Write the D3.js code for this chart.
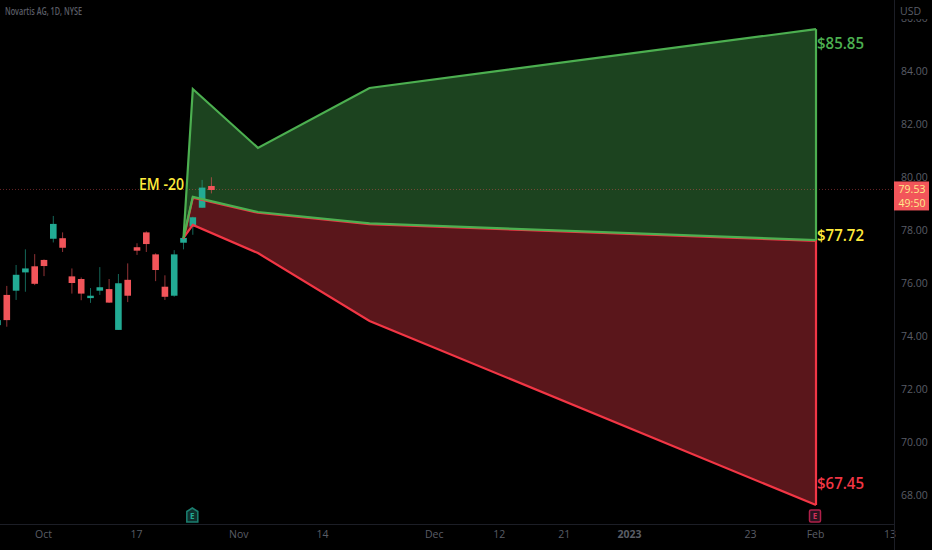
<!DOCTYPE html>
<html><head><meta charset="utf-8">
<script src="https://cdn.jsdelivr.net/npm/d3@7"></script>
<style>html,body{margin:0;padding:0;background:#000;overflow:hidden}svg{display:block}text{font-family:"Open Sans",sans-serif}</style>
</head><body><svg id="c" width="932" height="550"></svg>
<script>
const barIdx=[-5,-4,-3,-2,-1,0,1,2,3,4,5,6,7,8,9,10,11,12,13,14,15,16,17,18];
const open =[74.41,75.55,75.71,76.40,76.63,76.87,77.67,77.69,76.25,76.15,75.43,75.71,75.77,74.23,76.12,77.35,77.91,77.08,75.86,75.52,77.52,78.13,78.84,79.66];
const close=[74.60,74.60,76.31,76.55,75.97,76.64,78.23,77.33,76.00,75.60,75.52,75.84,75.26,75.99,75.52,77.22,77.47,76.49,75.48,77.08,77.70,78.48,79.60,79.51];
const high =[74.70,75.89,76.68,77.27,77.09,76.89,78.53,77.91,76.55,76.21,75.81,76.60,76.15,76.34,76.74,77.50,77.95,77.12,76.29,77.24,77.87,78.50,79.89,79.99];
const low  =[74.35,74.35,75.36,75.67,75.92,76.26,77.53,77.17,75.60,75.35,75.25,75.55,75.25,74.23,75.28,77.06,77.17,76.07,75.36,75.48,77.27,77.82,78.84,79.38];
const coneIdx=[15,16,23,35,83];
const coneUpper=[77.70,83.32,81.10,83.36,85.58];
const coneMid  =[77.70,79.25,78.68,78.25,77.62];
const coneLower=[77.70,78.19,77.13,74.57,67.62];
const priceTicks=[86,84,82,80,78,76,74,72,70,68];
const timeTickIdx=[0,10,21,30,42,49,56,63,76,83,91];
const timeTickLabels=["Oct","17","Nov","14","Dec","12","21","2023","23","Feb","13"];
const lastPrice=79.53, countdown="49:50";
const labels=[{t:"$85.85",v:85.06,c:"#4caf50"},{t:"$77.72",v:77.80,c:"#ffeb3b"},{t:"$67.45",v:68.45,c:"#f23645"}];

const svg=d3.select("#c");
const UP="#22ab94",DOWN="#f2555a",AXIS="#1c1e26",TXT="#5a5d66";
const x=d3.scaleLinear().domain([0,83]).range([44,816]);
const y=d3.scaleLinear().domain([84,68]).range([71,495]);
const plotR=894, plotB=524;

svg.append("rect").attr("width",932).attr("height",550).attr("fill","#000");

// cone fills
const pts=coneIdx.map((d,i)=>({i:d,u:coneUpper[i],m:coneMid[i],l:coneLower[i]}));
const areaU=d3.area().x(d=>x(d.i)).y0(d=>y(d.m)).y1(d=>y(d.u));
const areaL=d3.area().x(d=>x(d.i)).y0(d=>y(d.l)).y1(d=>y(d.m));
svg.append("path").attr("d",areaL(pts)).attr("fill","#5a161b");
svg.append("path").attr("d",areaU(pts)).attr("fill","#1c431f");

// last price line
svg.append("line").attr("x1",0).attr("x2",plotR).attr("y1",y(lastPrice)).attr("y2",y(lastPrice))
  .attr("stroke","#f2555a").attr("stroke-opacity",.42).attr("stroke-dasharray","1 2");

// candles
const candles=barIdx.map((d,i)=>({i:d,o:open[i],c:close[i],h:high[i],l:low[i]}));
const g=svg.append("g");
g.selectAll("line").data(candles).join("line")
  .attr("x1",d=>x(d.i)).attr("x2",d=>x(d.i)).attr("y1",d=>y(d.h)).attr("y2",d=>y(d.l))
  .attr("stroke",d=>d.c>=d.o?UP:DOWN).attr("stroke-opacity",.6);
g.selectAll("rect").data(candles).join("rect")
  .attr("x",d=>x(d.i)-3.3).attr("width",6.6)
  .attr("y",d=>y(Math.max(d.o,d.c))).attr("height",d=>Math.max(1,Math.abs(y(d.o)-y(d.c))))
  .attr("fill",d=>d.c>=d.o?UP:DOWN);

// cone outlines
const ln=k=>d3.line().x(d=>x(d.i)).y(d=>y(d[k]));
const last=pts[pts.length-1];
const SW=2.2;
svg.append("path").attr("d",ln("l")(pts)).attr("fill","none").attr("stroke","#f23645").attr("stroke-width",SW);
svg.append("line").attr("x1",x(83)).attr("x2",x(83)).attr("y1",y(last.l)).attr("y2",y(last.m)).attr("stroke","#f23645").attr("stroke-width",SW);
svg.append("path").attr("d",ln("m")(pts)).attr("fill","none").attr("stroke","#f23645").attr("stroke-width",SW).attr("transform","translate(0,0.8)");
svg.append("path").attr("d",ln("u")(pts)).attr("fill","none").attr("stroke","#4caf50").attr("stroke-width",SW);
svg.append("path").attr("d",ln("m")(pts)).attr("fill","none").attr("stroke","#4caf50").attr("stroke-width",SW);
svg.append("line").attr("x1",x(83)).attr("x2",x(83)).attr("y1",y(last.u)).attr("y2",y(last.m)).attr("stroke","#4caf50").attr("stroke-width",SW);

// annotation labels
const lab=svg.append("g").attr("font-weight",600).attr("font-size",17);
lab.selectAll("text").data(labels).join("text").attr("x",817).attr("y",d=>y(d.v)+6)
  .attr("fill",d=>d.c).attr("textLength",47).attr("lengthAdjust","spacingAndGlyphs").text(d=>d.t);
svg.append("text").attr("x",139).attr("y",190).attr("fill","#ffeb3b").attr("font-size",17).attr("font-weight",600)
  .attr("textLength",45).attr("lengthAdjust","spacingAndGlyphs").text("EM -20");

// axes
const ya=d3.axisRight(y).tickValues(priceTicks).tickSize(0).tickPadding(7).tickFormat(d3.format(".2f"));
const yg=svg.append("g").attr("transform",`translate(${plotR},0)`).call(ya);
yg.select(".domain").remove();
yg.selectAll("text").attr("fill",TXT).attr("font-size",10.5);
svg.append("rect").attr("x",plotR+1).attr("y",0).attr("width",40).attr("height",19).attr("fill","#000");
const xa=d3.axisBottom(x).tickValues(timeTickIdx).tickSize(0).tickPadding(7).tickFormat((d,i)=>timeTickLabels[i]);
const xg=svg.append("g").attr("transform",`translate(0,${plotB})`).call(xa);
xg.select(".domain").remove();
xg.selectAll("text").attr("fill",TXT).attr("font-size",10.5).attr("dx",-1);
xg.selectAll("text").filter((d,i)=>timeTickLabels[i]==="2023").attr("font-weight",700);
svg.append("line").attr("x1",0).attr("x2",plotR).attr("y1",plotB+.5).attr("y2",plotB+.5).attr("stroke",AXIS);
svg.append("line").attr("x1",plotR+.5).attr("x2",plotR+.5).attr("y1",0).attr("y2",550).attr("stroke",AXIS);

svg.append("text").attr("x",900).attr("y",15).attr("fill",TXT).attr("font-size",10.5).text("USD");
svg.append("text").attr("x",5).attr("y",15).attr("fill",TXT).attr("font-size",10).attr("font-weight",600).attr("textLength",77).attr("lengthAdjust","spacingAndGlyphs").text("Novartis AG, 1D, NYSE");

// last price tag
const ly=y(lastPrice);
svg.append("rect").attr("x",plotR).attr("y",ly-8).attr("width",35).attr("height",29).attr("fill","#f2555a");
svg.append("text").attr("x",plotR+18).attr("y",ly+4).attr("text-anchor","middle").attr("fill","#ffeb8a").attr("font-size",10.5).text(d3.format(".2f")(lastPrice));
svg.append("text").attr("x",plotR+18).attr("y",ly+18).attr("text-anchor","middle").attr("fill","#ffeb8a").attr("font-size",10.5).text(countdown);

// earnings markers
const em=svg.append("g");
const gx=x(16)-0.5;
em.append("path").attr("d",`M${gx-5.5},${511.5} L${gx},${508} L${gx+5.5},${511.5} V${522} H${gx-5.5} Z`).attr("fill","#0f2f2c").attr("stroke","#1b7f70").attr("stroke-width",1.5);
em.append("text").attr("x",gx).attr("y",519).attr("text-anchor","middle").attr("font-size",8).attr("font-weight",700).attr("fill","#22ab94").text("E");
const rx=x(83)-1;
em.append("rect").attr("x",rx-5.5).attr("y",510).attr("width",11).attr("height",12).attr("rx",1.5).attr("fill","#2a1420").attr("stroke","#b0204a").attr("stroke-width",1.5);
em.append("text").attr("x",rx).attr("y",519).attr("text-anchor","middle").attr("font-size",8).attr("font-weight",700).attr("fill","#d0305a").text("E");
</script></body></html>
